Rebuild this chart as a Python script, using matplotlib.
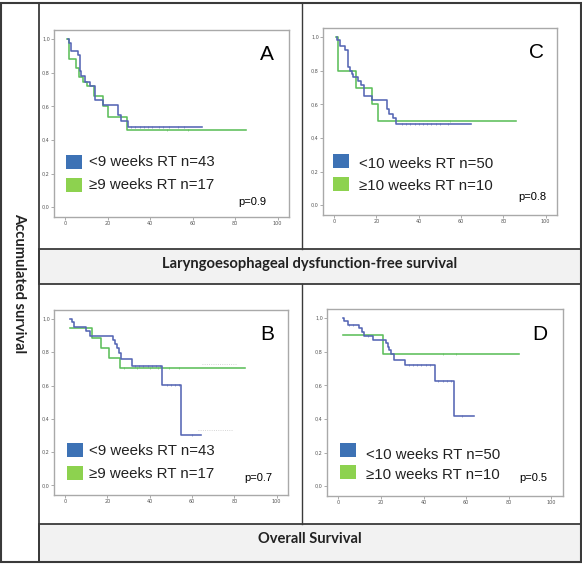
import numpy as np
import matplotlib
matplotlib.use('Agg')
import matplotlib.pyplot as plt
from matplotlib.patches import Rectangle
from matplotlib.ticker import FuncFormatter

# ---- data (months vs cumulative survival) ----
# A: laryngoesophageal dysfunction-free survival, 9 weeks cut-off
A_blue_t = [1.5, 1.6, 2.8, 5.8, 7.0, 7.4, 9.1, 11.7, 13.8, 18.0, 25.0, 26.1, 29.7, 64.5]
A_blue_s = [1.0, 0.974, 0.93, 0.905, 0.81, 0.78, 0.746, 0.72, 0.637, 0.607, 0.548, 0.514, 0.478, 0.478]
A_green_t = [0.8, 2.0, 5.0, 6.7, 8.3, 10.2, 13.6, 17.7, 20.3, 28.9, 85.2]
A_green_s = [1.0, 0.884, 0.83, 0.776, 0.746, 0.72, 0.66, 0.60, 0.538, 0.462, 0.462]
A_blue_cens = [31, 33, 35, 37, 39, 41, 44, 46, 49, 53, 56]
A_green_cens = [48, 58]

# C: laryngoesophageal dysfunction-free survival, 10 weeks cut-off
C_blue_t = [1.2, 1.3, 2.8, 5.2, 6.7, 7.5, 8.3, 9.1, 11.4, 12.5, 14.1, 18.1, 25.0, 25.9, 27.8, 29.4, 64.6]
C_blue_s = [1.0, 0.984, 0.945, 0.925, 0.82, 0.80, 0.78, 0.76, 0.74, 0.718, 0.649, 0.625, 0.57, 0.544, 0.521, 0.485, 0.485]
C_green_t = [0.9, 2.0, 10.3, 18.1, 20.8, 85.8]
C_green_s = [1.0, 0.8, 0.7, 0.6, 0.5, 0.5]
C_blue_cens = [32, 34, 36, 38, 40, 42, 44, 46, 48, 50, 54]
C_green_cens = [55]

# B: overall survival, 9 weeks cut-off
B_blue_t = [2.2, 3.0, 4.3, 9.8, 11.7, 22.5, 23.7, 24.6, 25.4, 26.5, 31.7, 46.0, 55.0, 64.3]
B_blue_s = [1.0, 0.98, 0.954, 0.928, 0.90, 0.874, 0.848, 0.824, 0.794, 0.76, 0.72, 0.604, 0.30, 0.30]
B_green_t = [2.2, 12.9, 16.9, 20.9, 26.0, 85.2]
B_green_s = [0.944, 0.884, 0.824, 0.768, 0.704, 0.704]
B_blue_cens = [33, 35, 37, 39, 41, 43, 45, 48, 50, 52, 54, 60]
B_green_cens = [28, 34, 40, 44, 49, 54]

# D: overall survival, 10 weeks cut-off
D_blue_t = [2.0, 2.8, 4.4, 9.9, 11.1, 12.2, 16.1, 22.4, 23.2, 23.9, 24.7, 26.3, 31.5, 45.5, 54.5, 63.8]
D_blue_s = [1.0, 0.98, 0.96, 0.94, 0.918, 0.895, 0.869, 0.849, 0.83, 0.81, 0.786, 0.75, 0.722, 0.627, 0.419, 0.419]
D_green_t = [2.0, 20.8, 84.7]
D_green_s = [0.899, 0.786, 0.786]
D_blue_cens = [5, 7, 14, 33, 35, 37, 39, 41, 43, 47, 49, 51, 53, 58]
D_green_cens = [49, 55]

labels_9 = ["<9 weeks RT n=43", "\u22659 weeks RT n=17"]
labels_10 = ["<10 weeks RT n=50", "\u226510 weeks RT n=10"]
p_values = {"A": "p=0.9", "B": "p=0.7", "C": "p=0.8", "D": "p=0.5"}
x_ticks = [0, 20, 40, 60, 80, 100]
y_ticks = [0.0, 0.2, 0.4, 0.6, 0.8, 1.0]

BLUE_LINE = '#5566b4'
GREEN_LINE = '#5cbf5a'
BLUE_BOX = '#3d72b5'
GREEN_BOX = '#8dd24f'
EDGE = '#3a3a3a'

W, H = 582, 564
fig = plt.figure(figsize=(W / 100, H / 100), dpi=100)

def fx(x):
    return x / W

def fy(y):
    return 1 - y / H

# background frame in pixel coordinates
bg = fig.add_axes([0, 0, 1, 1])
bg.set_xlim(0, W)
bg.set_ylim(H, 0)
bg.axis('off')
bg.add_patch(Rectangle((39, 249), 542, 35, fc='#f2f2f2', ec=EDGE, lw=1.3))
bg.add_patch(Rectangle((39, 524), 542, 38, fc='#f2f2f2', ec=EDGE, lw=1.3))
bg.add_patch(Rectangle((1, 3), 580, 559, fill=False, ec=EDGE, lw=1.5))
bg.plot([39, 39], [3, 562], color=EDGE, lw=1.3)
bg.plot([302, 302], [3, 249], color=EDGE, lw=1.0)
bg.plot([302, 302], [284, 524], color=EDGE, lw=1.0)
bg.text(310, 264, "Laryngoesophageal dysfunction-free survival", ha='center', va='center',
        fontsize=10.6, fontweight='bold', family='Lato', color='#222222')
bg.text(310, 539, "Overall Survival", ha='center', va='center',
        fontsize=10.6, fontweight='bold', family='Lato', color='#222222')
bg.text(19, 283, "Accumulated survival", ha='center', va='center', rotation=-90,
        fontsize=10.5, fontweight='bold', family='Lato', color='#222222')


def km_panel(box, letter, letter_xy, p_xy, blue, green, labels, leg):
    left, right, top, bottom = box
    ax = fig.add_axes([fx(left), fy(bottom), (right - left) / W, (bottom - top) / H])
    ax.set_facecolor('none')
    for (t, s, cens, col) in (green + (GREEN_LINE,), blue + (BLUE_LINE,)):
        t = np.array(t)
        s = np.array(s)
        ax.step(t, s, where='post', color=col, lw=1.15)
        c = np.array(cens)
        cy = s[np.searchsorted(t, c, side='right') - 1]
        ax.plot(c, cy, ls='none', marker='|', ms=1.8, mew=0.5, color=col, alpha=0.8)
    ax.set_xlim(-5.3, 105.4)
    ax.set_ylim(-0.058, 1.054)
    ax.set_xticks(x_ticks)
    ax.set_yticks(y_ticks)
    ax.yaxis.set_major_formatter(FuncFormatter(lambda v, p: f"{v:.1f}".replace('.', ',')))
    ax.tick_params(labelsize=3.5, labelcolor='#555555', color='#888888', length=2, width=0.5, pad=1)
    for sp in ax.spines.values():
        sp.set_color('#a9a9a9')
        sp.set_linewidth(1.0)
    # panel letter and p-value
    bg.text(letter_xy[0], letter_xy[1], letter, ha='center', va='center', fontsize=15,
            family='Liberation Sans', color='black')
    bg.text(p_xy[0], p_xy[1], p_values[letter], ha='center', va='center', fontsize=8,
            family='Liberation Sans', color='black')
    # legend boxes
    sq_x, sq_y, txt_x, txt_y = leg
    for i, col in enumerate((BLUE_BOX, GREEN_BOX)):
        bg.add_patch(Rectangle((sq_x, sq_y[i]), 16, 14, fc=col, ec='none', zorder=5))
        bg.text(txt_x, txt_y[i], labels[i], ha='left', va='center', fontsize=10.8,
                family='Liberation Sans', color='#222222', zorder=5)
    return ax


km_panel((54, 289, 30, 217), "A", (267, 55), (252, 202),
         (A_blue_t, A_blue_s, A_blue_cens), (A_green_t, A_green_s, A_green_cens),
         labels_9, (66, (155, 178), 89, (162, 185)))
km_panel((323, 557, 28, 215), "C", (537, 53), (532, 197),
         (C_blue_t, C_blue_s, C_blue_cens), (C_green_t, C_green_s, C_green_cens),
         labels_10, (333, (154, 177), 359, (164, 186)))
axB = km_panel((54, 288, 310, 495), "B", (267, 335), (258, 478),
               (B_blue_t, B_blue_s, B_blue_cens), (B_green_t, B_green_s, B_green_cens),
               labels_9, (67, (443, 466), 89, (451, 474)))
km_panel((327, 563, 309, 496), "D", (540, 335), (533, 478),
         (D_blue_t, D_blue_s, D_blue_cens), (D_green_t, D_green_s, D_green_cens),
         labels_10, (340, (443, 465), 366, (455, 475)))

# faint dotted remnants visible in panel B
axB.plot([64.6, 81.3], [0.73, 0.73], color='#c8c8c8', lw=0.6, ls=':')
axB.plot([63.0, 79.0], [0.335, 0.335], color='#c8c8c8', lw=0.6, ls=':')

fig.savefig('out.png', dpi=100)
